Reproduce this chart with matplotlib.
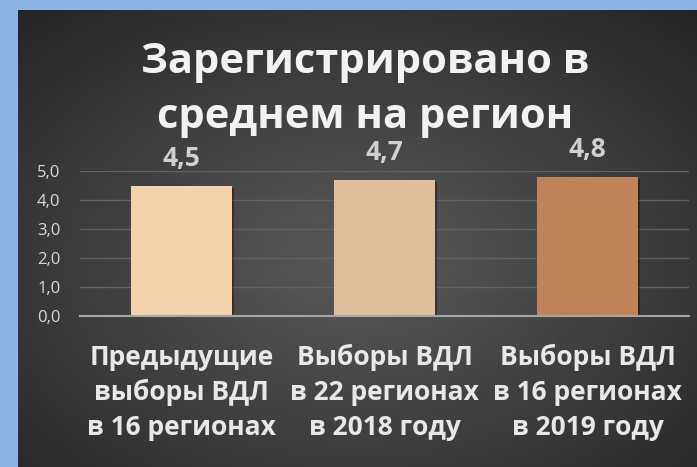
import numpy as np
import matplotlib
matplotlib.use('agg')
import matplotlib.pyplot as plt
import matplotlib.patheffects as pe

# data
categories = ['Предыдущие\nвыборы ВДЛ\nв 16 регионах',
              'Выборы ВДЛ\nв 22 регионах\nв 2018 году',
              'Выборы ВДЛ\nв 16 регионах\nв 2019 году']
values = [4.5, 4.7, 4.8]
value_labels = ['4,5', '4,7', '4,8']
yticks = [0, 1, 2, 3, 4, 5]
ytick_labels = ['0,0', '1,0', '2,0', '3,0', '4,0', '5,0']
bar_colors = ['#f3d2ac', '#e0be9c', '#c1825a']
title_lines = ['Зарегистрировано в', 'среднем на регион']

plt.rcParams['font.family'] = ['Open Sans', 'DejaVu Sans']

W, H = 697, 467
fig = plt.figure(figsize=(W / 100, H / 100), dpi=100)
fig.patch.set_facecolor('#8eb4e3')

# dark radial-gradient panel
bg = fig.add_axes([18 / W, 0, (W - 18) / W, (H - 10) / H])
bg.set_axis_off()
yy, xx = np.mgrid[0:1:300j, 0:1:400j]
r = np.sqrt(((xx - 0.5) / 0.75) ** 2 + ((yy - 0.55) / 0.75) ** 2)
r = np.clip(r, 0, 1)
img = 0.345 - (0.345 - 0.14) * r ** 1.1
bg.imshow(np.dstack([img, img, img]), aspect='auto', extent=[0, 1, 0, 1])

ax = fig.add_axes([80 / W, 1 - 316 / H, 609 / W, 145 / H])
ax.set_facecolor('none')
x = np.arange(len(values))
bars = ax.bar(x, values, width=0.5, color=bar_colors, zorder=3)
for b in bars:
    b.set_path_effects([pe.SimplePatchShadow(offset=(1.5, -1.5), shadow_rgbFace='black', alpha=0.35),
                        pe.Normal()])

ax.set_xlim(-0.5, 2.5)
ax.set_ylim(0, 5)
ax.set_yticks(yticks)
ax.set_yticklabels(ytick_labels, color='#d9d9d9', fontsize=12)
ax.yaxis.grid(True, color='#626262', linewidth=1, zorder=0)
ax.tick_params(axis='y', length=0, pad=14)
ax.tick_params(axis='x', length=0, pad=20)
ax.set_xticks(x)
ax.set_xticklabels(categories, color='#e8e8e8', fontsize=19, fontweight='bold',
                   linespacing=1.38)
for s in ['top', 'right', 'left']:
    ax.spines[s].set_visible(False)
ax.spines['bottom'].set_color('#a6a6a6')
ax.spines['bottom'].set_linewidth(1.5)
ax.spines['bottom'].set_zorder(4)

for xi, v, lab in zip(x, values, value_labels):
    ax.annotate(lab, (xi, v), xytext=(0, 14), textcoords='offset points',
                ha='center', va='baseline', color='#d0d0d0', fontsize=19,
                fontweight='bold', annotation_clip=False)

fig.text(365 / W, 1 - 73 / H, title_lines[0], ha='center', va='baseline', color='#f2f2f2',
         fontsize=30, fontweight='bold')
fig.text(365 / W, 1 - 128 / H, title_lines[1], ha='center', va='baseline', color='#f2f2f2',
         fontsize=30, fontweight='bold')

fig.savefig('out.png', dpi=100)
